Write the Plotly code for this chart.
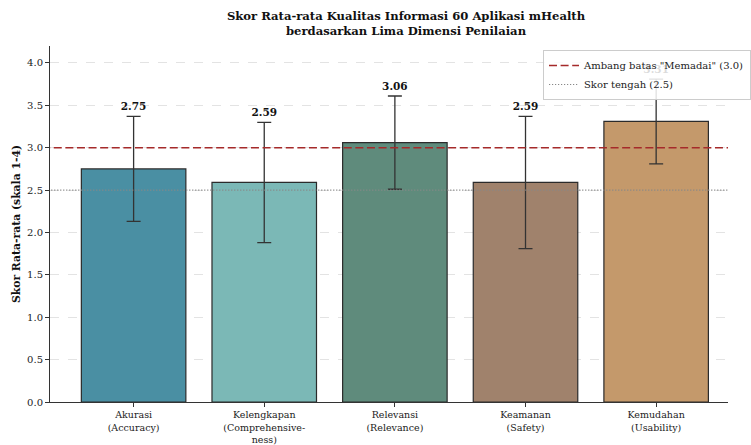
import plotly.graph_objects as go

categories = ["Akurasi<br>(Accuracy)", "Kelengkapan<br>(Comprehensive-<br>ness)",
              "Relevansi<br>(Relevance)", "Keamanan<br>(Safety)", "Kemudahan<br>(Usability)"]
means = [2.75, 2.59, 3.06, 2.59, 3.31]
sds = [0.62, 0.71, 0.55, 0.78, 0.50]
colors = ["#4A8FA3", "#7BB8B6", "#5F8B7C", "#A0826C", "#C4996B"]
threshold = 3.0
midpoint = 2.5
y_ticks = [0.0, 0.5, 1.0, 1.5, 2.0, 2.5, 3.0, 3.5, 4.0]
label_pad = 0.04

FONT = "DejaVu Serif"
xs = list(range(len(categories)))

fig = go.Figure()
fig.add_trace(go.Bar(
    x=xs, y=means, width=0.8,
    marker=dict(color=colors, line=dict(color="#2b2b2b", width=1.2)),
    error_y=dict(type="data", array=sds, visible=True, color="#333333", thickness=1.3, width=7),
    showlegend=False, hoverinfo="skip",
))
fig.add_trace(go.Scatter(
    x=xs, y=[m + s + label_pad for m, s in zip(means, sds)],
    mode="text", text=[f"<b>{m:.2f}</b>" for m in means], textposition="top center",
    textfont=dict(family=FONT, size=10.5, color="#111111"),
    showlegend=False, hoverinfo="skip",
))
fig.add_trace(go.Scatter(
    x=[-0.7, 4.7], y=[threshold, threshold], mode="lines",
    line=dict(color="#A52A2A", width=1.6, dash="8px,3.6px"),
    name='Ambang batas "Memadai" (3.0)',
))
fig.add_trace(go.Scatter(
    x=[-0.7, 4.7], y=[midpoint, midpoint], mode="lines",
    line=dict(color="#888888", width=1.1, dash="1.2px,1.8px"),
    name="Skor tengah (2.5)",
))

fig.update_layout(
    width=751, height=445,
    margin=dict(l=50, r=0, t=46, b=37),
    plot_bgcolor="white", paper_bgcolor="white",
    font=dict(family=FONT, size=10, color="#222222"),
    title=dict(
        text="<b>Skor Rata-rata Kualitas Informasi 60 Aplikasi mHealth<br>berdasarkan Lima Dimensi Penilaian</b>",
        x=406 / 751, xanchor="center", yref="container", y=0.955, yanchor="top",
        font=dict(family=FONT, size=11.6, color="#111111"),
    ),
    legend=dict(
        x=(560 - 50) / 701, xanchor="left", y=(408 - 50) / 362, yanchor="top",
        bgcolor="rgba(255,255,255,0.85)", bordercolor="#cccccc", borderwidth=1,
        font=dict(family=FONT, size=10, color="#222222"),
        tracegroupgap=0, itemwidth=30,
    ),
    xaxis=dict(
        range=[-0.64, 4.55], tickmode="array", tickvals=xs, ticktext=categories,
        showline=True, linecolor="#333333", linewidth=1,
        ticks="outside", ticklen=4, tickcolor="#333333",
        showgrid=False, zeroline=False,
        tickfont=dict(family=FONT, size=9.5, color="#222222"),
    ),
    yaxis=dict(
        range=[0, 4.2], tickmode="array", tickvals=y_ticks,
        ticktext=[f"{v:.1f}" for v in y_ticks],
        showline=True, linecolor="#333333", linewidth=1,
        ticks="outside", ticklen=4, tickcolor="#333333",
        showgrid=True, gridcolor="#e3e3e3", gridwidth=0.8, griddash="dash",
        zeroline=False,
        tickfont=dict(family=FONT, size=10, color="#222222"),
        title=dict(text="<b>Skor Rata-rata (skala 1-4)</b>", standoff=4,
                   font=dict(family=FONT, size=10.8, color="#111111")),
    ),
)

fig.write_html("out.html")
